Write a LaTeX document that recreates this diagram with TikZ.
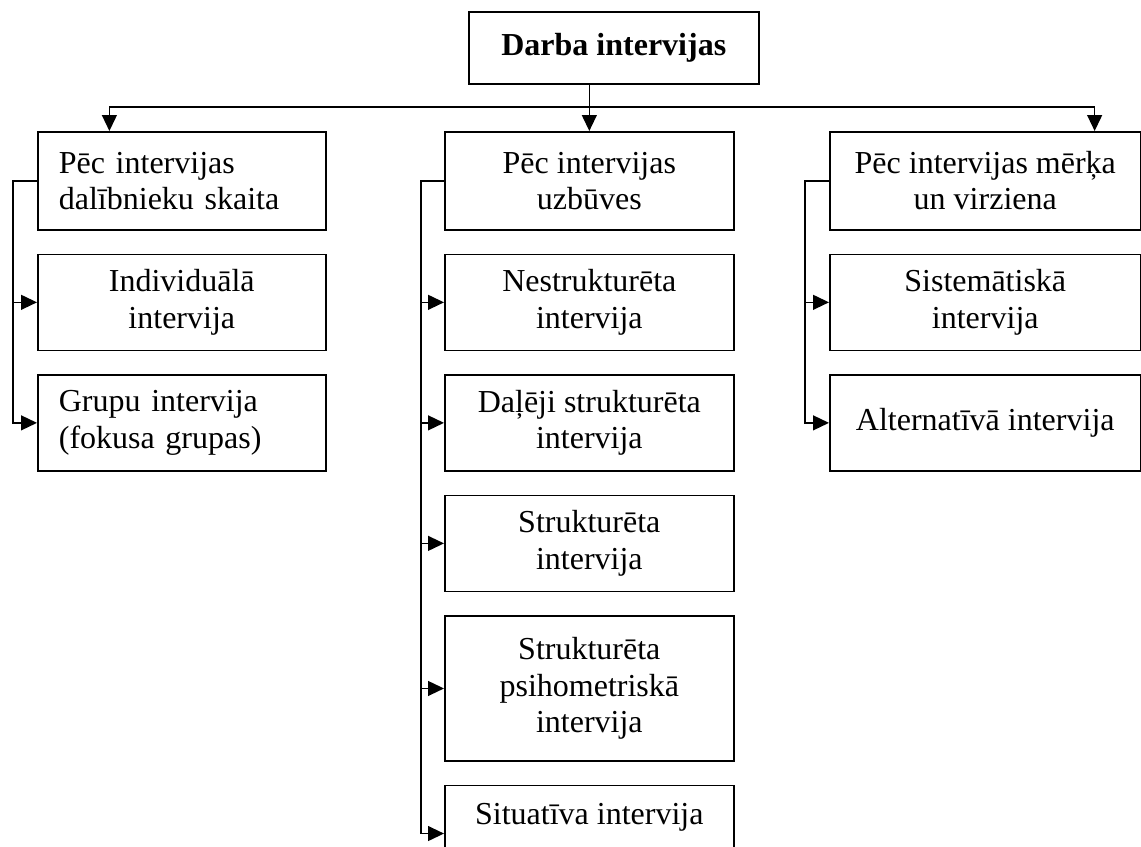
\documentclass[tikz,border=0pt]{standalone}
\usepackage{fontspec}
\setmainfont{Liberation Serif}
\usetikzlibrary{arrows.meta,positioning,calc}

\begin{document}
\begin{tikzpicture}[
  x=0.375pt, y=-0.375pt,
  font=\fontsize{12pt}{13.6pt}\selectfont,
  typebox/.style={draw, rectangle, line width=0.6pt, minimum width=#1, minimum height=36pt, align=center, inner sep=2pt},
  typebox/.default=108.4pt,
  headbox/.style={typebox=#1, minimum height=36.75pt},
  headbox/.default=108.4pt,
  leftbox/.style={typebox=108pt, text width=92.2pt, inner xsep=7.9pt, align=left},
  rootbox/.style={draw, rectangle, line width=0.6pt, minimum width=108.75pt, minimum height=27pt, font=\fontsize{12pt}{13.6pt}\selectfont\bfseries},
  flow/.style={-{Triangle[length=6pt,width=5.6pt]}, line width=0.55pt}
]
\useasboundingbox (0,0) rectangle (1141,847);

\node[rootbox, anchor=north west] (root) at (468,11) {Darba intervijas};

% pec dalibnieku skaita
\node[leftbox, minimum height=36.75pt, anchor=north west] (lhead) at (37,131) {Pēc intervijas\\dalībnieku skaita};
\node[typebox=108pt, below=8.6pt of lhead] (lind) {Individuālā\\intervija};
\node[leftbox, below=8.6pt of lind] (lgrup) {Grupu intervija\\(fokusa grupas)};

% pec uzbuves
\node[headbox, anchor=north west] (mhead) at (444,131) {Pēc intervijas\\uzbūves};
\node[typebox, below=8.6pt of mhead] (mnestr) {Nestrukturēta\\intervija};
\node[typebox, below=8.6pt of mnestr] (mdalej) {Daļēji strukturēta\\intervija};
\node[typebox, below=8.6pt of mdalej] (mstrukt) {Strukturēta\\intervija};
\node[typebox, minimum height=54.4pt, below=8.6pt of mstrukt] (mpsiho) {Strukturēta\\psihometriskā\\intervija};
\node[typebox, text depth=15pt, below=8.6pt of mpsiho] (msitu) {Situatīva intervija};

% pec merka un virziena
\node[headbox=116.6pt, anchor=north west] (rhead) at (829,131) {Pēc intervijas mērķa\\un virziena};
\node[typebox=116.6pt, below=8.6pt of rhead] (rsist) {Sistemātiskā\\intervija};
\node[typebox=116.6pt, below=8.6pt of rsist] (ralt) {Alternatīvā intervija};

% top level
\coordinate (bus) at (0,107);
\coordinate (ltip) at ($(lhead.north west)!0.25!(lhead.north east)$);
\coordinate (rtip) at ($(rhead.north west)!0.85!(rhead.north east)$);
\draw[flow] (root.south -| mhead.north) -- (mhead.north);
\draw[line width=0.55pt] (ltip |- bus) -- (rtip |- bus);
\draw[flow] (ltip |- bus) -- (ltip);
\draw[flow] (rtip |- bus) -- (rtip);

% branches
\draw[flow] (lhead.west) -- ++(-9pt,0) |- (lind.west);
\draw[flow] (lhead.west) -- ++(-9pt,0) |- (lgrup.west);
\draw[flow] (mhead.west) -- ++(-8.6pt,0) |- (mnestr.west);
\draw[flow] (mhead.west) -- ++(-8.6pt,0) |- (mdalej.west);
\draw[flow] (mhead.west) -- ++(-8.6pt,0) |- (mstrukt.west);
\draw[flow] (mhead.west) -- ++(-8.6pt,0) |- (mpsiho.west);
\draw[flow] (mhead.west) -- ++(-8.6pt,0) |- (msitu.west);
\draw[flow] (rhead.west) -- ++(-9pt,0) |- (rsist.west);
\draw[flow] (rhead.west) -- ++(-9pt,0) |- (ralt.west);
\end{tikzpicture}
\end{document}
